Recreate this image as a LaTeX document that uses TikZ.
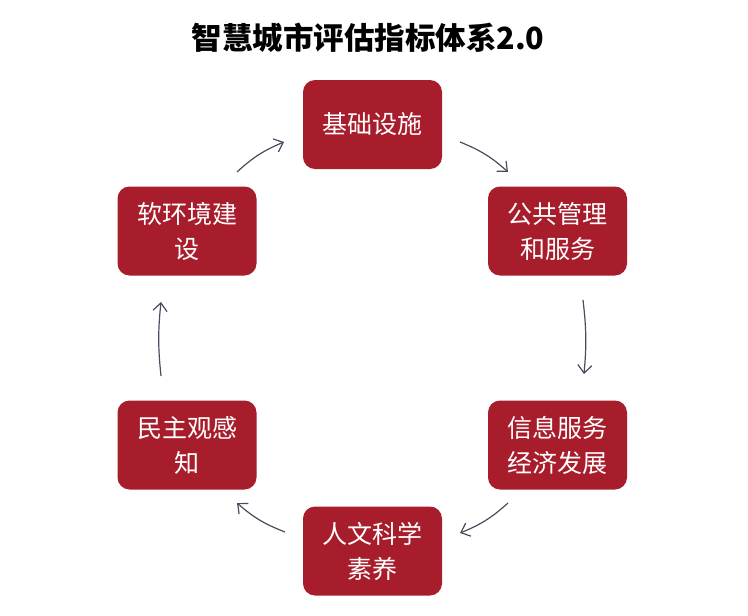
\documentclass[tikz,border=0pt]{standalone}
\usepackage{fontspec}
\newfontfamily\cjk{Noto Sans CJK SC}
\usetikzlibrary{arrows.meta,positioning}
\definecolor{boxred}{HTML}{A81D2C}
\definecolor{arrowgray}{HTML}{4A4B5C}
\begin{document}
\begin{tikzpicture}[x=1pt,y=-1pt,
  stage/.style={draw=none,fill=boxred,rounded corners=12pt,minimum width=139pt,minimum height=89pt,
    text=white,align=center,font=\cjk\fontsize{25}{35}\selectfont,inner sep=0pt},
  flow/.style={draw=arrowgray,line width=1.2pt,-{Straight Barb[length=8pt,width=14pt]}}]
\useasboundingbox (0,0) rectangle (748,616);
\node[font=\cjk\bfseries\fontsize{30.5}{33}\selectfont,text=black] (title) at (368,38) {智慧城市评估指标体系2.0};
\node[stage] (b1) at (372.5,124.5) {基础设施};
\node[stage] (b2) at (557.5,231) {公共管理\\和服务};
\node[stage] (b3) at (557.5,445) {信息服务\\经济发展};
\node[stage] (b4) at (372.5,551) {人文科学\\素养};
\node[stage] (b5) at (187,445) {民主观感\\知};
\node[stage] (b6) at (187,231) {软环境建\\设};
\coordinate (a1s) at (460,142); \coordinate (a1e) at (508,172);
\coordinate (a2s) at (583,300); \coordinate (a2e) at (584,374);
\coordinate (a3s) at (508,503); \coordinate (a3e) at (460,533);
\coordinate (a4s) at (285,532); \coordinate (a4e) at (237,503);
\coordinate (a5s) at (161,376); \coordinate (a5e) at (161,302);
\coordinate (a6s) at (237,172); \coordinate (a6e) at (284,142);
\draw[flow] (a1s) to[bend left=10] (a1e);
\draw[flow] (a2s) to[bend left=6] (a2e);
\draw[flow] (a3s) to[bend left=10] (a3e);
\draw[flow] (a4s) to[bend left=10] (a4e);
\draw[flow] (a5s) to[bend left=6] (a5e);
\draw[flow] (a6s) to[bend left=10] (a6e);
\end{tikzpicture}
\end{document}
